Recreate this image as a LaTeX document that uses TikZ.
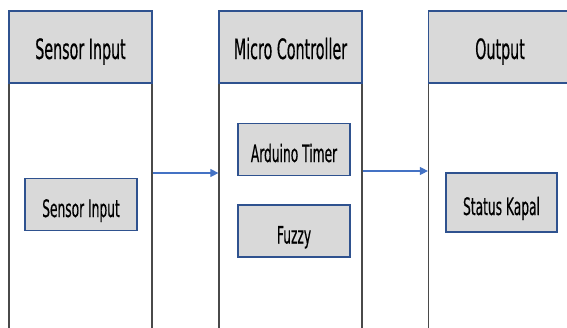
\documentclass[tikz,border=0pt]{standalone}
\usepackage{fontspec}
\setmainfont{DejaVu Sans}[FakeStretch=0.51, FakeBold=0.4]
\usepackage{tikz}
\usetikzlibrary{arrows.meta}

\definecolor{hdrgray}{HTML}{D9D9D9}
\definecolor{edgeblue}{HTML}{2F528F}
\definecolor{arrblue}{HTML}{4472C4}
\definecolor{lanegray}{HTML}{4A4A4A}

\tikzset{
  lane/.style={draw=lanegray, line width=1.2pt, minimum width=143pt, minimum height=260pt, anchor=north, inner sep=0pt},
  header/.style={draw=edgeblue, fill=hdrgray, line width=1.6pt, minimum width=143pt, minimum height=72pt, inner sep=0pt,
    text height=24pt, text depth=0pt, font=\fontsize{28}{32}\selectfont},
  block/.style={draw=edgeblue, fill=hdrgray, line width=1.6pt, minimum width=112pt, minimum height=52pt, inner sep=0pt,
    text height=25pt, text depth=0pt, font=\fontsize{24}{28}\selectfont},
  flow/.style={draw=arrblue, line width=1.1pt, -{Triangle[length=8pt,width=8pt]}}
}

\begin{document}
\begin{tikzpicture}[x=1pt,y=-1pt]
    \useasboundingbox (0,0) rectangle (567,327);
    \clip (0,0) rectangle (567,327);

    % lanes
    \node (lanein)  at (80.5,83)  [lane] {};
    \node (lanemc)  at (290.5,83) [lane] {};
    \node (laneout) at (500,83)   [lane] {};

    % headers
    \node (hdrin)  at (80.5,47)  [header] {Sensor Input};
    \node (hdrmc)  at (290.5,47) [header] {Micro Controller};
    \node (hdrout) at (500,47)   [header] {Output};

    % blocks
    \node (sensor)  at (81,204.5)  [block] {Sensor Input};
    \node (arduino) at (294,149.5) [block] {Arduino Timer};
    \node (fuzzy)   at (294,231)   [block] {Fuzzy};
    \node (status)  at (501.5,202.5) [block, minimum width=111pt, minimum height=59pt] {Status Kapal};

    \coordinate (lvla) at (0,173);
    \coordinate (lvlb) at (0,171);
    \draw[flow] (lanein.east |- lvla) -- (lanemc.west |- lvla);
    \draw[flow] (lanemc.east |- lvlb) -- (laneout.west |- lvlb);
\end{tikzpicture}
\end{document}
